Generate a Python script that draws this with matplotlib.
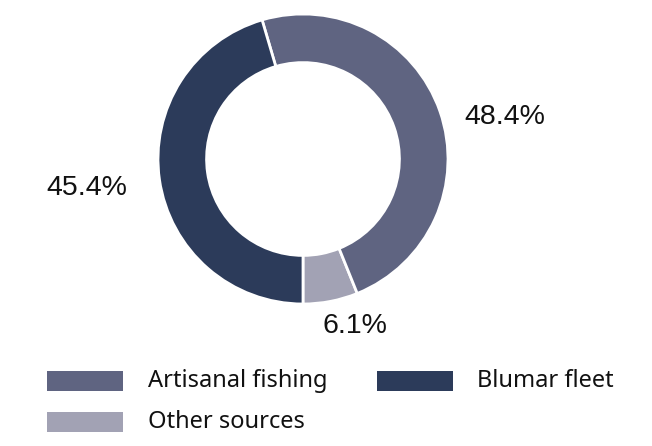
import matplotlib
matplotlib.use("Agg")
import matplotlib.pyplot as plt
from matplotlib.patches import Rectangle

categories = ["Artisanal fishing", "Other sources", "Blumar fleet"]
values = [48.4, 6.1, 45.4]
colors = ["#5f6481", "#a2a2b4", "#2c3b5a"]
labels = ["48.4%", "6.1%", "45.4%"]

W, H = 652, 446
fig = plt.figure(figsize=(W / 100, H / 100), dpi=100)

cx, cy, R = 303, 159, 145
half = 150
ax = fig.add_axes([(cx - half) / W, (H - cy - half) / H, 2 * half / W, 2 * half / H])
lim = half / R

# order drawn counter-clockwise starting at the bottom: Other, Artisanal, Blumar
order = [1, 0, 2]
wedges, _ = ax.pie([values[i] for i in order], colors=[colors[i] for i in order],
                   startangle=-90, counterclock=True, radius=1,
                   wedgeprops=dict(width=0.335, edgecolor="white", linewidth=2))
ax.set_xlim(-lim, lim)
ax.set_ylim(-lim, lim)
ax.set_aspect("equal")
ax.axis("off")

lab_pos = {"48.4%": (505, 117), "6.1%": (355, 326), "45.4%": (87, 188)}
for lab in labels:
    x, y = lab_pos[lab]
    fig.text(x / W, (H - y) / H, lab, ha="center", va="center",
             fontsize=20.5, family="Liberation Sans", color="#111111")

leg = [(0, 47, 381, 148), (2, 377, 381, 477), (1, 47, 422, 148)]
for idx, px, py, tx in leg:
    fig.patches.append(Rectangle((px / W, (H - py - 10) / H), 76 / W, 20 / H,
                                 transform=fig.transFigure, facecolor=colors[idx],
                                 edgecolor="none"))
    fig.text(tx / W, (H - py) / H, categories[idx], ha="left", va="center",
             fontsize=17, family="Noto Sans", color="#111111")

fig.savefig("out.png", dpi=100)
